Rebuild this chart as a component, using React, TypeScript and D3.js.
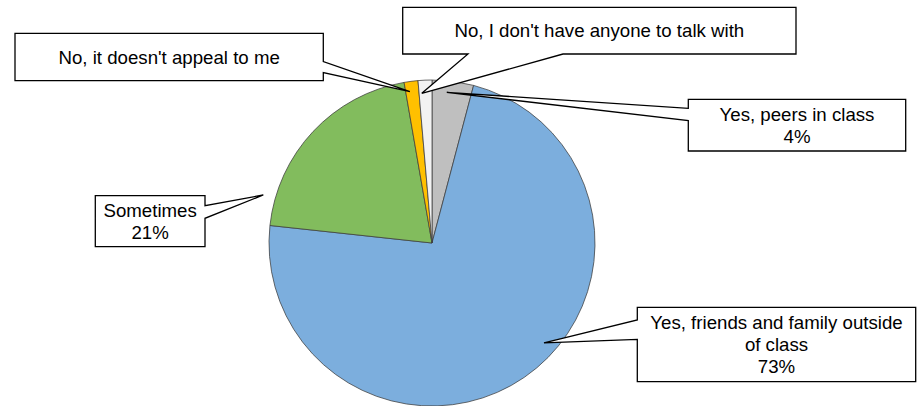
import React from "react";
import * as d3 from "d3";

// ---- data ----
const categories = [
  "Yes, peers in class",
  "Yes, friends and family outside of class",
  "Sometimes",
  "No, it doesn't appeal to me",
  "No, I don't have anyone to talk with",
];
const counts = [3, 53, 15, 1, 1];
const showPercent = [true, true, true, false, false];
const labelLines = [
  ["Yes, peers in class"],
  ["Yes, friends and family outside", "of class"],
  ["Sometimes"],
  ["No, it doesn't appeal to me"],
  ["No, I don't have anyone to talk with"],
];
const colors = ["#BFBFBF", "#7CAEDD", "#82BC5D", "#FFC000", "#F2F2F2"];

// ---- layout (callout boxes / pointers) ----
const W = 918;
const H = 406;
const CX = 432;
const CY = 243;
const R = 163;

type Callout = {
  x: number; y: number; w: number; h: number;
  side: "left" | "right" | "bottom";
  b1: number; b2: number; // wedge base positions along the side
  tipAngle: number; tipR: number; // pointer tip, polar from pie centre (deg clockwise from 12 o'clock)
};

const callouts: Callout[] = [
  { x: 688.3, y: 99.3, w: 217.4, h: 51.7, side: "left", b1: 108.3, b2: 120.7, tipAngle: 5.6, tipR: 151.4 },
  { x: 637.3, y: 307.3, w: 278.4, h: 74.4, side: "left", b1: 320, b2: 339.3, tipAngle: 131.7, tipR: 150 },
  { x: 95.3, y: 195.7, w: 109.7, h: 51, side: "right", b1: 205.7, b2: 218.3, tipAngle: 285.9, tipR: 175.4 },
  { x: 15, y: 33.3, w: 308.3, h: 47.4, side: "right", b1: 61.5, b2: 72.5, tipAngle: 351.7, tipR: 152.9 },
  { x: 402.7, y: 7.3, w: 393.3, h: 46.7, side: "bottom", b1: 468, b2: 563, tipAngle: 356.1, tipR: 150 },
];

function calloutPath(c: Callout, tx: number, ty: number): string {
  const { x, y, w, h } = c;
  const r = x + w;
  const b = y + h;
  const pts: [number, number][] = [];
  pts.push([x, y]);
  pts.push([r, y]);
  if (c.side === "right") {
    pts.push([r, Math.min(c.b1, c.b2)]);
    pts.push([tx, ty]);
    pts.push([r, Math.max(c.b1, c.b2)]);
  }
  pts.push([r, b]);
  if (c.side === "bottom") {
    pts.push([Math.max(c.b1, c.b2), b]);
    pts.push([tx, ty]);
    pts.push([Math.min(c.b1, c.b2), b]);
  }
  pts.push([x, b]);
  if (c.side === "left") {
    pts.push([x, Math.max(c.b1, c.b2)]);
    pts.push([tx, ty]);
    pts.push([x, Math.min(c.b1, c.b2)]);
  }
  return "M" + pts.map((p) => p.join(",")).join("L") + "Z";
}

export default function App() {
  const total = d3.sum(counts);
  const pct = d3.format(".0%");
  const pie = d3
    .pie<number>()
    .sort(null)
    .value((d) => d)
    .startAngle(0)
    .endAngle(2 * Math.PI);
  const arcs = pie(counts);
  const arc = d3.arc<d3.PieArcDatum<number>>().innerRadius(0).outerRadius(R);

  const fontSize = 18.67;
  const lineH = 21.8;

  return (
    <svg
      width={W}
      height={H}
      style={{ position: "absolute", left: 0, top: 0, background: "#fff" }}
      fontFamily="'Liberation Sans', Arial, sans-serif"
    >
      <rect width={W} height={H} fill="#fff" />
      <g transform={`translate(${CX},${CY})`}>
        {arcs.map((a, i) => (
          <path key={i} d={arc(a) || ""} fill={colors[i]} stroke="#3c3c3c" strokeWidth={0.75} />
        ))}
      </g>
      {callouts.map((c, i) => {
        const ang = (c.tipAngle * Math.PI) / 180;
        const tx = CX + c.tipR * Math.sin(ang);
        const ty = CY - c.tipR * Math.cos(ang);
        const lines = [...labelLines[i]];
        if (showPercent[i]) lines.push(pct(counts[i] / total));
        const cy = c.y + c.h / 2;
        const y0 = cy - ((lines.length - 1) * lineH) / 2;
        return (
          <g key={categories[i]}>
            <path d={calloutPath(c, tx, ty)} fill="#fff" stroke="#000" strokeWidth={1.3} strokeLinejoin="miter" />
            {lines.map((t, j) => (
              <text
                key={j}
                x={c.x + c.w / 2}
                y={y0 + j * lineH}
                dy="0.35em"
                textAnchor="middle"
                fontSize={fontSize}
                fill="#000"
              >
                {t}
              </text>
            ))}
          </g>
        );
      })}
    </svg>
  );
}
